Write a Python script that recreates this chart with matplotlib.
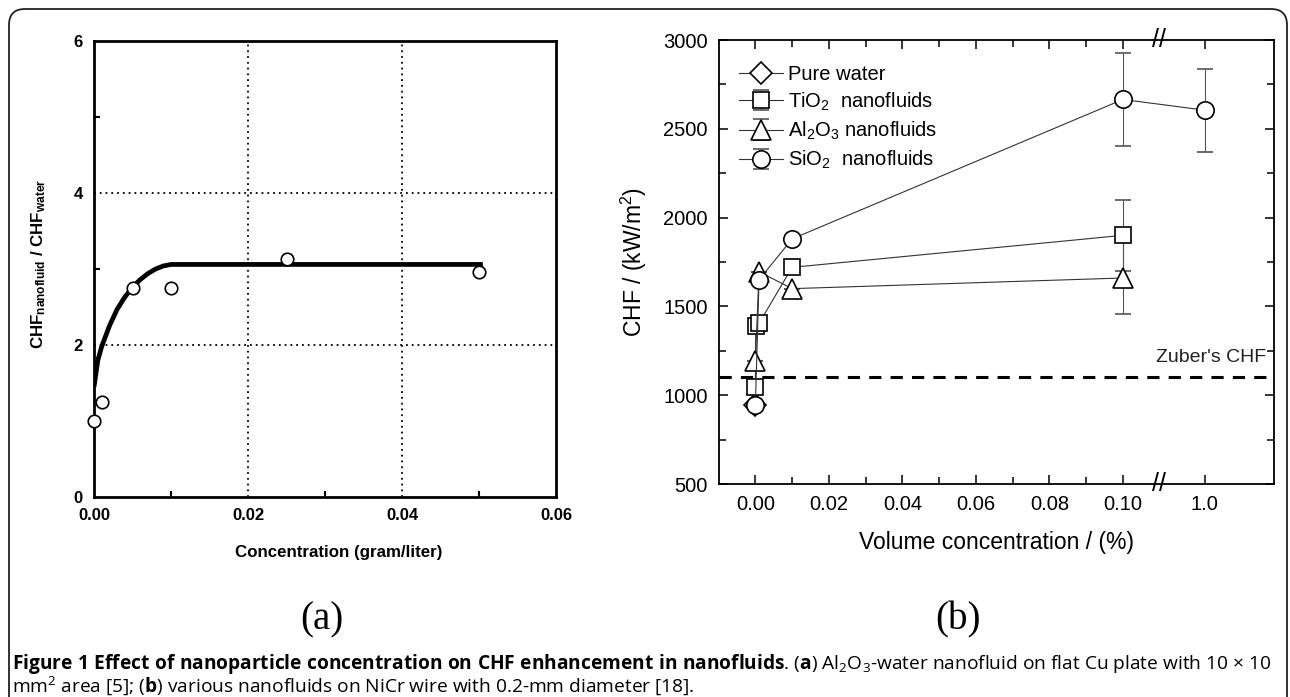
# recreate figure: CHF enhancement in nanofluids, panels (a) and (b)
import matplotlib
matplotlib.use("Agg")
import matplotlib.pyplot as plt
import matplotlib.transforms as mtransforms
from matplotlib.patches import FancyBboxPatch
import numpy as np

# panel (a) data: Al2O3-water nanofluid on flat Cu plate
a_conc = [0.0, 0.001, 0.005, 0.010, 0.025, 0.050]
a_ratio = [1.00, 1.25, 2.75, 2.75, 3.13, 2.96]
# fitted curve
a_fit_conc = [0.0, 0.0005, 0.001, 0.002, 0.003, 0.004, 0.005, 0.006,
	0.007, 0.008, 0.009, 0.010, 0.0505]
a_fit_ratio = [1.45, 1.80, 1.98, 2.25, 2.47, 2.63, 2.76, 2.86,
	2.94, 3.00, 3.04, 3.06, 3.06]

# panel (b) data: various nanofluids on NiCr wire
water_conc = [0.0]
water_chf = [945]
tio2_conc = [0.0, 0.0001, 0.001, 0.01, 0.1]
tio2_chf = [1045, 1390, 1405, 1720, 1900]
tio2_err = [0, 0, 0, 0, 200]
al2o3_conc = [0.0, 0.001, 0.01, 0.1]
al2o3_chf = [1190, 1695, 1600, 1660]
al2o3_err = [0, 0, 0, 200]
sio2_conc = [0.0, 0.001, 0.01, 0.1, 1.0]
sio2_chf = [945, 1650, 1880, 2665, 2605]
sio2_err_lo = [0, 0, 0, 260, 235]
sio2_err_hi = [0, 0, 0, 260, 230]
zuber_chf = 1105

b_ticks = [0.0, 0.02, 0.04, 0.06, 0.08, 0.10, 1.0]
b_tick_labels = ["0.00", "0.02", "0.04", "0.06", "0.08", "0.10", "1.0"]
b_minor = [0.01, 0.03, 0.05, 0.07, 0.09]

# broken x axis: values above 0.1 are squeezed
K = 0.02478
def fwd(x):
	x = np.asarray(x, dtype=float)
	return np.where(x <= 0.1, x, 0.1 + (x - 0.1) * K)

def inv(y):
	y = np.asarray(y, dtype=float)
	return np.where(y <= 0.1, y, 0.1 + (y - 0.1) / K)

BREAK_AT = 0.5

plt.rcParams["font.family"] = ["Liberation Sans", "DejaVu Sans"]
plt.rcParams["mathtext.fontset"] = "custom"
plt.rcParams["mathtext.rm"] = "Open Sans"
plt.rcParams["mathtext.bf"] = "Open Sans:bold"
plt.rcParams["mathtext.it"] = "Open Sans:italic"

fig = plt.figure(figsize=(12.9, 6.97), dpi=100)

# outer frame with rounded top corners
frame = FancyBboxPatch((9, -60), 1278, 697 - 9 + 60,
	boxstyle="round,pad=0,rounding_size=16", transform=None,
	fill=False, edgecolor="#222222", linewidth=1.3)
fig.patches.append(frame)

# ---------------- panel (a) ----------------
ax1 = fig.add_axes([94 / 1290, 1 - 497 / 697, 462 / 1290, 456 / 697])
ax1.plot(a_fit_conc, a_fit_ratio, color="black", linewidth=3.4,
	solid_capstyle="butt", zorder=3)
ax1.plot(a_conc, a_ratio, linestyle="none", marker="o", markersize=9,
	markerfacecolor="white", markeredgecolor="black",
	markeredgewidth=1.2, zorder=4, clip_on=False)
ax1.set_xlim(0, 0.06)
ax1.set_ylim(0, 6)
ax1.set_xticks([0, 0.02, 0.04, 0.06])
ax1.set_xticklabels(["0.00", "0.02", "0.04", "0.06"])
ax1.set_xticks([0.01, 0.03, 0.05], minor=True)
ax1.set_yticks([0, 2, 4, 6])
ax1.set_yticks([1, 3, 5], minor=True)
ax1.tick_params(which="both", direction="in", width=1.5,
	labelsize=12, top=False, right=False)
ax1.tick_params(which="major", length=0, pad=8)
ax1.tick_params(which="minor", length=4)
for lab in ax1.get_xticklabels() + ax1.get_yticklabels():
	lab.set_fontweight("bold")
for sp in ax1.spines.values():
	sp.set_linewidth(2)
for gx in [0.02, 0.04]:
	ax1.axvline(gx, color="black", linestyle=(0, (1, 2.2)), linewidth=1.3,
		zorder=1)
for gy in [2, 4]:
	ax1.axhline(gy, color="black", linestyle=(0, (1, 2.2)), linewidth=1.3,
		zorder=1)
ax1.set_xlabel("Concentration (gram/liter)", fontsize=12.2,
	fontweight="bold")
ax1.xaxis.set_label_coords(0.53, -0.105)
ax1.set_ylabel(r"CHF$\mathregular{_{nanofluid}}$ / CHF$\mathregular{_{water}}$",
	fontsize=12.2, fontweight="bold")
ax1.yaxis.set_label_coords(-0.1, 0.51)

# ---------------- panel (b) ----------------
ax2 = fig.add_axes([719 / 1290, 1 - 484 / 697, 555 / 1290, 444 / 697])
ax2.set_xscale("function", functions=(fwd, inv))

line_kw = dict(color="#333333", linewidth=0.8, markerfacecolor="white",
	markeredgecolor="black", markeredgewidth=1.2)
ax2.plot(water_conc, water_chf, marker="D", markersize=11,
	label="Pure water", **line_kw)
ax2.errorbar(tio2_conc, tio2_chf, yerr=tio2_err, marker="s", markersize=11.5,
	ecolor="#555555", elinewidth=0.8, capsize=6, capthick=0.8,
	label=r"TiO$\mathregular{_2}$  nanofluids", **line_kw)
ax2.errorbar(al2o3_conc, al2o3_chf, yerr=al2o3_err, marker="^",
	markersize=14, ecolor="#555555", elinewidth=0.8, capsize=6,
	capthick=0.8,
	label=r"Al$\mathregular{_2}$O$\mathregular{_3}$ nanofluids", **line_kw)
ax2.errorbar(sio2_conc, sio2_chf, yerr=[sio2_err_lo, sio2_err_hi],
	marker="o", markersize=12.5, ecolor="#555555", elinewidth=0.8,
	capsize=6, capthick=0.8,
	label=r"SiO$\mathregular{_2}$  nanofluids", **line_kw)

ax2.axhline(zuber_chf, color="black", linestyle=(0, (4, 3)), linewidth=2.2,
	zorder=1)
ax2.text(0.985, zuber_chf + 60, "Zuber's CHF", fontsize=14,
	transform=mtransforms.blended_transform_factory(ax2.transAxes, ax2.transData),
	ha="right", va="bottom", color="#222222")

ax2.set_xlim(-0.0099, 1.76)
ax2.set_ylim(500, 3000)
ax2.set_xticks(b_ticks)
ax2.set_xticklabels(b_tick_labels)
ax2.set_xticks(b_minor, minor=True)
ax2.set_yticks(np.arange(500, 3001, 500))
ax2.set_yticks(np.arange(750, 3000, 500), minor=True)
ax2.tick_params(which="both", direction="in", top=True, right=True,
	width=1.1, labelsize=14.5)
ax2.tick_params(which="major", length=6.5, pad=8)
ax2.tick_params(which="minor", length=5)
for sp in ax2.spines.values():
	sp.set_linewidth(1.3)
ax2.set_xlabel("Volume concentration / (%)", fontsize=16.5, labelpad=12)
ax2.set_ylabel(r"CHF / (kW/m$\mathregular{^2}$)", fontsize=16.5, labelpad=10)

# axis break marks
btrans = mtransforms.blended_transform_factory(ax2.transData, ax2.transAxes)
for yb in [0, 1]:
	ax2.text(BREAK_AT, yb, "//", transform=btrans, ha="center", va="center",
		fontsize=18, clip_on=False)

leg = ax2.legend(loc="upper left", bbox_to_anchor=(0.0, 0.99),
	frameon=False, fontsize=14.5, handlelength=2.2, handletextpad=0.25,
	labelspacing=0.34, borderaxespad=0.6, numpoints=1)

# panel letters
fig.text(322 / 1290, 1 - 620 / 697, "(a)", fontsize=28,
	family="Liberation Serif", ha="center", va="center")
fig.text(958 / 1290, 1 - 620 / 697, "(b)", fontsize=28,
	family="Liberation Serif", ha="center", va="center")

# caption
cap1 = (r"$\mathbf{Figure\ 1\ Effect\ of\ nanoparticle\ concentration\ on\ CHF"
	r"\ enhancement\ in\ nanofluids}$. ($\mathbf{a}$) Al$_2$O$_3$-water "
	r"nanofluid on flat Cu plate with 10 × 10")
cap2 = (r"mm$^2$ area [5]; ($\mathbf{b}$) various nanofluids on NiCr wire "
	r"with 0.2-mm diameter [18].")
fig.text(12 / 1290, 1 - 664 / 697, cap1, fontsize=13.8, family="Open Sans",
	ha="left", va="center")
fig.text(12 / 1290, 1 - 686 / 697, cap2, fontsize=13.8, family="Open Sans",
	ha="left", va="center")

plt.savefig("out.png", dpi=100)
